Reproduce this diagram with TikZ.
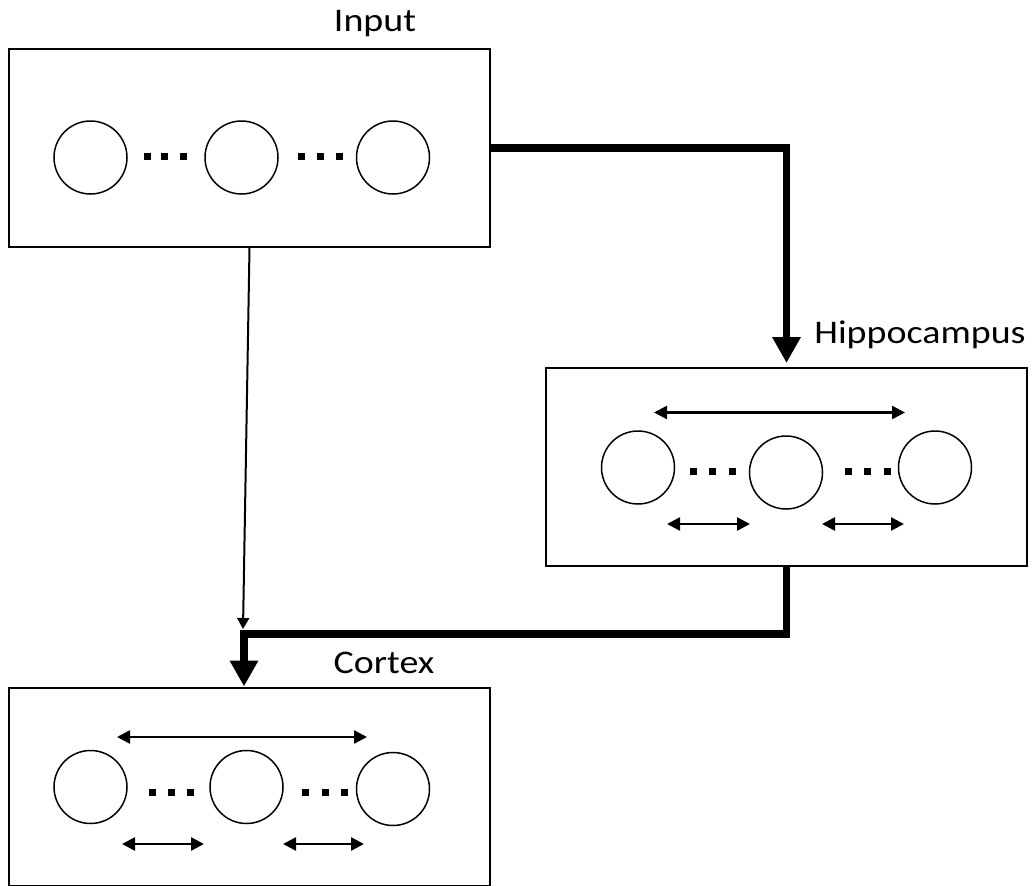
\documentclass[tikz,border=0pt]{standalone}
\usepackage{fontspec}
\setmainfont{Carlito}
\newfontfamily\labelfont[FakeStretch=1.15]{Carlito}
\usetikzlibrary{arrows.meta}

\begin{document}
\begin{tikzpicture}[x=1pt,y=-1pt,
        layer/.style={draw,line width=2pt,minimum width=481pt,minimum height=198pt,inner sep=0pt},
        unit/.style={draw,circle,line width=1.5pt,minimum size=73pt,inner sep=0pt},
        title/.style={anchor=base,font=\labelfont\fontsize{33}{40}\selectfont},
        bigarrow/.style={line width=7.5pt,-{Triangle[length=26pt,width=27pt]}},
        smallarrow/.style={line width=2pt,-{Triangle[length=11pt,width=12pt]}},
        link/.style={line width=2.5pt,{Triangle[length=13pt,width=13pt]}-{Triangle[length=13pt,width=13pt]}}]
            \useasboundingbox (0,0) rectangle (1034,886);

            % layers
            \node[layer] (input) at (249.5,148) {};
            \node[layer] (hippo) at (786.5,467) {};
            \node[layer] (cortex) at (249.5,786.5) {};

            \node[title] (inputlabel) at (375,31) {Input};
            \node[title] (hippolabel) at (920,343) {Hippocampus};
            \node[title] (cortexlabel) at (384,673) {Cortex};

            % units
            \node[unit] (in1) at (90.5,157.5) {};
            \node[unit] (in2) at (241.5,157.5) {};
            \node[unit] (in3) at (393,157.5) {};
            \node[unit] (hc1) at (638,467.5) {};
            \node[unit] (hc2) at (786,472.5) {};
            \node[unit] (hc3) at (935,467.5) {};
            \node[unit] (cx1) at (90.5,787) {};
            \node[unit] (cx2) at (246.5,787) {};
            \node[unit] (cx3) at (393,789) {};

            % dots
            \foreach \x in {147,164,183,301,320,339}
                \fill (\x-3.5,152.5) rectangle ++(7,7);
            \foreach \x in {693,712,732,848,867,887}
                \fill (\x-3.5,467.5) rectangle ++(7,7);
            \foreach \x in {152,171,190,305,325,344}
                \fill (\x-3.5,788.5) rectangle ++(7,7);

            % lateral links
            \draw[link] (654,412.5) -- (905,412.5);
            \draw[link] (667,524) -- (750,524);
            \draw[link] (822,524) -- (904,524);
            \draw[link] (117,737) -- (367,737);
            \draw[link] (122,844) -- (204,844);
            \draw[link] (283,844) -- (364,844);

            % pathways
            \coordinate (meet) at (243,629);
            \coordinate (turn) at (244,634);
            \draw[bigarrow,shorten >=4pt] (input.east) -| (hippo.north);
            \draw[smallarrow] (input.south) -- (meet);
            \draw[bigarrow] (hippo.south) |- (turn) -- (turn |- cortex.north);
        \end{tikzpicture}
\end{document}
